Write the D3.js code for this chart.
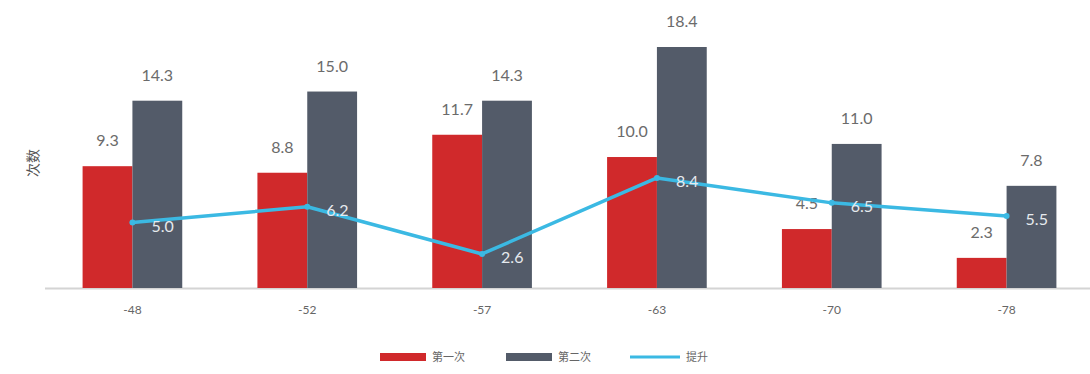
<!DOCTYPE html>
<html>
<head>
<meta charset="utf-8">
<script src="https://cdn.jsdelivr.net/npm/d3@7"></script>
<style>
  body { margin: 0; background: #fff; }
  svg { display: block; font-family: "Lato", "Noto Sans CJK SC", sans-serif; }
</style>
</head>
<body>
<svg width="1090" height="374"></svg>
<script>
"use strict";

// chart data
var categories = ["-48", "-52", "-57", "-63", "-70", "-78"],
    first = [9.3, 8.8, 11.7, 10.0, 4.5, 2.3],
    second = [14.3, 15.0, 14.3, 18.4, 11.0, 7.8],
    lift = [5.0, 6.2, 2.6, 8.4, 6.5, 5.5],
    seriesNames = ["第一次", "第二次", "提升"];

var red = "#d0292b", grey = "#535b69", blue = "#3bb9e3";

var svg = d3.select("svg"),
    baseline = 288;

var x = d3.scaleBand()
    .domain(categories)
    .range([45, 1094])
    .paddingInner(0.43)
    .paddingOuter(0.215);

var y = d3.scaleLinear()
    .domain([0, 18.4])
    .range([baseline, 47]);

var half = x.bandwidth() / 2;
var cx = function(i) { return x(categories[i]) + half; };

// baseline
svg.append("line")
    .attr("x1", 45).attr("x2", 1090)
    .attr("y1", baseline + 0.5).attr("y2", baseline + 0.5)
    .attr("stroke", "#d4d4d4").attr("stroke-width", 2);

// x tick labels
svg.append("g").selectAll("text")
    .data(categories)
    .enter().append("text")
    .attr("x", function(d, i) { return cx(i); })
    .attr("y", 314)
    .attr("text-anchor", "middle")
    .attr("font-size", 12)
    .attr("fill", "#666")
    .text(function(d) { return d; });

// bars
var bars = svg.append("g");
bars.selectAll("rect.first")
    .data(first)
    .enter().append("rect").attr("class", "first")
    .attr("x", function(d, i) { return x(categories[i]); })
    .attr("width", half)
    .attr("y", function(d) { return y(d); })
    .attr("height", function(d) { return baseline - y(d); })
    .attr("fill", red);

bars.selectAll("rect.second")
    .data(second)
    .enter().append("rect").attr("class", "second")
    .attr("x", function(d, i) { return cx(i); })
    .attr("width", half)
    .attr("y", function(d) { return y(d); })
    .attr("height", function(d) { return baseline - y(d); })
    .attr("fill", grey);

// bar value labels
var labels = svg.append("g")
    .attr("font-size", 16)
    .attr("fill", "#6b6b6b")
    .attr("text-anchor", "middle");
labels.selectAll("text.first")
    .data(first)
    .enter().append("text")
    .attr("x", function(d, i) { return x(categories[i]) + half / 2; })
    .attr("y", function(d) { return y(d) - 20; })
    .text(function(d) { return d.toFixed(1); });
labels.selectAll("text.second")
    .data(second)
    .enter().append("text")
    .attr("x", function(d, i) { return cx(i) + half / 2; })
    .attr("y", function(d) { return y(d) - 20; })
    .text(function(d) { return d.toFixed(1); });

// lift line
var line = d3.line()
    .x(function(d, i) { return cx(i); })
    .y(function(d) { return y(d); });

svg.append("path")
    .datum(lift)
    .attr("d", line)
    .attr("fill", "none")
    .attr("stroke", blue)
    .attr("stroke-width", 3.5)
    .attr("stroke-linejoin", "round");

svg.append("g").selectAll("circle")
    .data(lift)
    .enter().append("circle")
    .attr("cx", function(d, i) { return cx(i); })
    .attr("cy", function(d) { return y(d); })
    .attr("r", 3)
    .attr("fill", blue);

svg.append("g").selectAll("text")
    .data(lift)
    .enter().append("text")
    .attr("x", function(d, i) { return cx(i) + 19; })
    .attr("y", function(d) { return y(d) + 9; })
    .attr("font-size", 16)
    .attr("fill", "#e6eaee")
    .text(function(d) { return d.toFixed(1); });

// y axis title
svg.append("text")
    .attr("transform", "translate(38,163) rotate(-90)")
    .attr("text-anchor", "middle")
    .attr("font-size", 14)
    .attr("fill", "#555")
    .text("次数");

// legend
var legend = svg.append("g").attr("font-size", 11).attr("fill", "#666");
var legendX = [380, 506, 630];
seriesNames.forEach(function(name, i) {
    var g = legend.append("g").attr("transform", "translate(" + legendX[i] + ",357)");
    if (i < 2) {
        g.append("rect").attr("x", 0).attr("y", -4).attr("width", 46).attr("height", 8)
            .attr("fill", i === 0 ? red : grey);
    } else {
        g.append("line").attr("x1", 0).attr("x2", 50).attr("y1", 0).attr("y2", 0)
            .attr("stroke", blue).attr("stroke-width", 3);
    }
    g.append("text")
        .attr("x", i < 2 ? 52 : 56)
        .attr("y", 4)
        .text(name);
});
</script>
</body>
</html>
